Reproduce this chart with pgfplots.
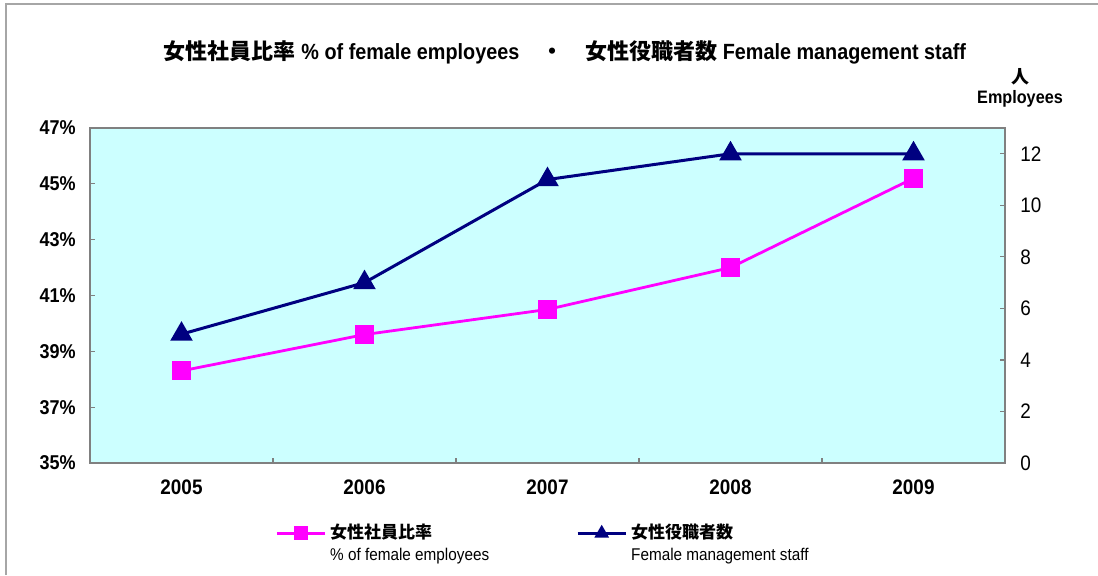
\documentclass[border=0pt]{standalone}
\usepackage{fontspec}
\usepackage{pgfplots}
\pgfplotsset{compat=1.18}
\setmainfont{Liberation Sans}[FakeStretch=0.9]
\newfontfamily\jp{Noto Sans CJK JP}
\definecolor{bgc}{HTML}{CCFFFF}
\definecolor{axgray}{HTML}{808080}
\definecolor{pinkc}{HTML}{FF00FF}
\definecolor{navyc}{HTML}{000080}
\definecolor{framegray}{HTML}{A6A6A6}
\newcommand{\lgbox}[1]{\makebox[121pt][l]{#1}}
\begin{document}
\begin{tikzpicture}
\useasboundingbox (0,0) rectangle (549pt,287.5pt);
\draw[framegray, line width=1pt] (3pt,0) -- (3pt,285.5pt) -- (549pt,285.5pt);
\node[anchor=base, inner sep=0pt, font=\fontsize{11}{13}\selectfont\bfseries] at (282.5pt,258pt)
  {{\jp 女性社員比率} \% of female employees\hspace{11pt}{\jp ・}\hspace{11pt}{\jp 女性役職者数} Female management staff};
\node[anchor=base, inner sep=0pt, font=\fontsize{9}{10}\selectfont\bfseries] at (510pt,246pt) {\jp 人};
\node[anchor=base, inner sep=0pt, font=\fontsize{9}{10}\selectfont\bfseries] at (510pt,236pt) {Employees};
\pgfplotsset{
  base/.style={
    scale only axis, width=457.5pt, height=167.5pt,
    at={(45pt,56pt)}, anchor=south west,
    xmin=-0.5, xmax=4.5,
    tick align=inside,
    major tick length=2.5pt,
    minor tick length=2.5pt,
    tick style={axgray, line width=0.6pt},
    axis line style={axgray, line width=1pt},
    /pgf/number format/assume math mode=true,
  }
}
\begin{axis}[base,
  ymin=35, ymax=47,
  axis background/.style={fill=bgc},
  xtick={0,1,2,3,4},
  xticklabels={2005,2006,2007,2008,2009},
  major x tick style={draw=none},
  minor xtick={0.5,1.5,2.5,3.5},
  xtick pos=bottom,
  ytick={35,37,...,47},
  yticklabels={35\%,37\%,39\%,41\%,43\%,45\%,47\%},
  ytick pos=left,
  xticklabel style={font=\fontsize{10.5}{12}\selectfont\bfseries, inner sep=0pt, anchor=north, yshift=-8pt},
  yticklabel style={font=\fontsize{10}{12}\selectfont\bfseries, inner sep=0pt, anchor=east, xshift=-7pt},
]
\addplot[pinkc, line width=1.4pt, mark=square*, mark size=4pt, mark options={solid}] coordinates {(0,38.3) (1,39.6) (2,40.5) (3,42.0) (4,45.2)};
\end{axis}
\begin{axis}[base,
  ymin=0, ymax=13,
  axis y line*=right,
  axis x line=none,
  ytick={0,2,...,12},
  yticklabel style={font=\fontsize{10.5}{12}\selectfont, inner sep=0pt, anchor=west, xshift=7.5pt},
  legend columns=2,
  legend style={draw=none, fill=none, inner sep=0pt, at={(0.2022,-0.182)}, anchor=north west, column sep=2pt, row sep=2pt,
     nodes={inner sep=0pt, text height=7pt, text depth=2pt, anchor=west}},
  legend cell align=left,
  legend image code/.code={\draw[#1] (0pt,0pt) -- (24pt,0pt); \draw[#1, mark size=2.8pt] plot coordinates {(12pt,0pt)};},
]
\addlegendimage{pinkc, line width=1.4pt, mark=square*}
\addlegendentry{\lgbox{\fontsize{8.5}{10}\selectfont\bfseries\jp 女性社員比率}}
\addplot[navyc, line width=1.5pt, mark=triangle*, mark size=5pt] coordinates {(0,5) (1,7) (2,11) (3,12) (4,12)};
\addlegendentry{\lgbox{\fontsize{8.5}{10}\selectfont\bfseries\jp 女性役職者数}}
\addlegendimage{empty legend}
\addlegendentry{\lgbox{\fontsize{8.5}{10}\selectfont \% of female employees}}
\addlegendimage{empty legend}
\addlegendentry{\lgbox{\fontsize{8.5}{10}\selectfont Female management staff}}
\end{axis}
\end{tikzpicture}
\end{document}
